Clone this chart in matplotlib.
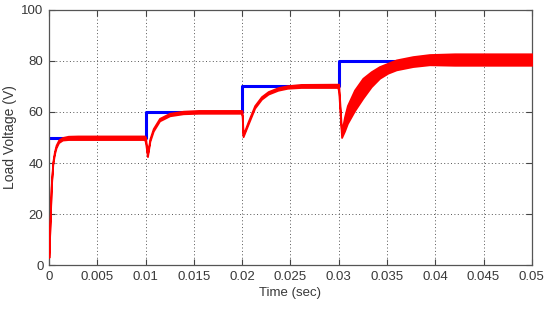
import matplotlib
matplotlib.use("Agg")
import matplotlib.pyplot as plt

# reference voltage steps
t_ref = [0, 0.01, 0.02, 0.03, 0.05]
v_ref = [50, 60, 70, 80, 80]

# load voltage envelope (lower / upper edge of the ripple band)
t_load = [0, 0.0001, 0.00015, 0.00024, 0.0004, 0.00057, 0.00074, 0.001, 0.0014,
          0.002, 0.003, 0.0099, 0.01, 0.0102, 0.01045, 0.0108, 0.01145, 0.0125,
          0.0139, 0.0155, 0.0199, 0.02, 0.0201, 0.0206, 0.0213, 0.022, 0.0227,
          0.0237, 0.0247, 0.0261, 0.0299, 0.03, 0.0303, 0.0306, 0.0309, 0.03164,
          0.0325, 0.03337, 0.03423, 0.03509, 0.03596, 0.03768, 0.0394, 0.042, 0.05]
v_low = [3, 15, 20, 30.5, 39.5, 43.5, 46, 48, 49,
         49.2, 49.2, 49.2, 48, 42.5, 48.5, 52.5, 56.5, 58.5,
         59.3, 59.5, 59.5, 58.5, 50.3, 55, 61.5, 65, 67,
         68.5, 69.3, 69.6, 69.6, 68, 50, 52.5, 55.5, 60.5,
         65.4, 69.9, 73.2, 75.2, 76.5, 77.8, 78.5, 78.3, 78.3]
v_high = [3.5, 15.5, 21, 31.5, 40.5, 44.5, 47, 49, 50,
          50.5, 50.6, 50.6, 50, 43.5, 49.5, 53.5, 57.5, 59.5,
          60.3, 60.6, 60.6, 60.5, 51, 56, 62.5, 66, 68,
          69.5, 70.3, 70.8, 70.9, 70.9, 52, 58, 62.5, 68.6,
          73.2, 75.8, 77.8, 79.1, 80.4, 81.7, 82.5, 82.8, 82.8]

x_ticks = [0, 0.005, 0.01, 0.015, 0.02, 0.025, 0.03, 0.035, 0.04, 0.045, 0.05]
x_labels = ["0", "0.005", "0.01", "0.015", "0.02", "0.025", "0.03", "0.035",
            "0.04", "0.045", "0.05"]
y_ticks = [0, 20, 40, 60, 80, 100]

plt.rcParams["font.family"] = ["Liberation Sans", "DejaVu Sans"]

fig = plt.figure(figsize=(5.5, 3.09), dpi=100)
ax = fig.add_axes([0.089, 0.142, 0.878, 0.826])

ax.step(t_ref, v_ref, where="post", color="#0000ff", linewidth=2.2, zorder=2)
ax.fill_between(t_load, v_low, v_high, color="#ff0000", edgecolor="#ff0000",
                linewidth=1.3, zorder=3)

ax.set_xlim(0, 0.05)
ax.set_ylim(0, 100)
ax.set_xticks(x_ticks)
ax.set_xticklabels(x_labels)
ax.set_yticks(y_ticks)
ax.grid(True, linestyle=(0, (1, 2.5)), color="#555555", linewidth=0.7)
ax.tick_params(direction="in", top=True, right=True, length=4, labelsize=9.5,
               colors="#444444", labelcolor="#383838", pad=4)
for sp in ax.spines.values():
    sp.set_color("#555555")
    sp.set_linewidth(0.9)

ax.set_xlabel("Time (sec)", fontsize=9.5, color="#383838", labelpad=3)
ax.set_ylabel("Load Voltage (V)", fontsize=10, color="#383838", labelpad=3)

fig.savefig("out.png", dpi=100)
